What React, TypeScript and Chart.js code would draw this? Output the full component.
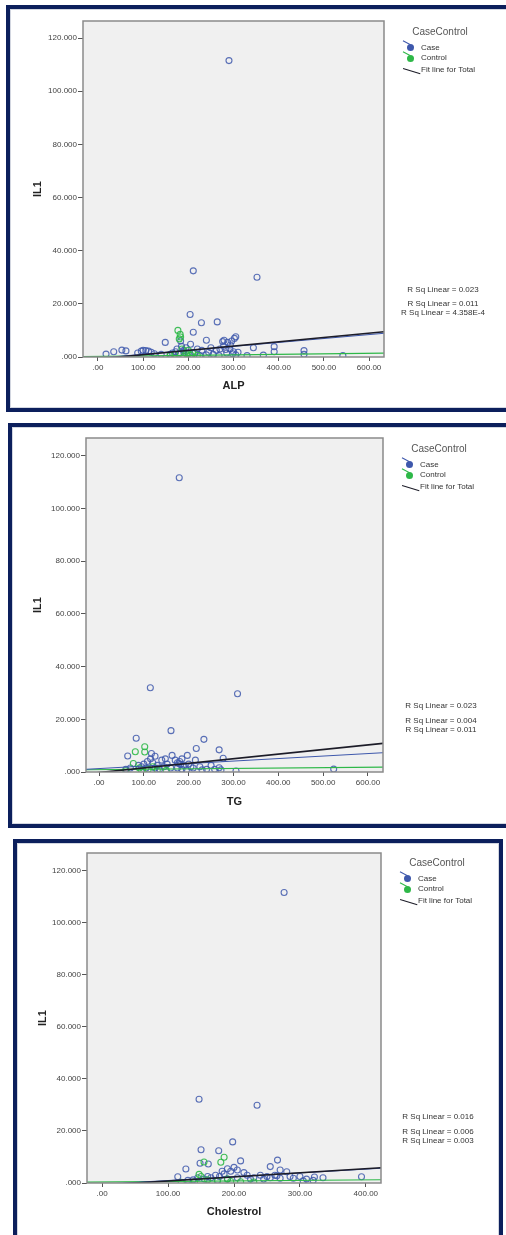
import React, { useEffect, useRef } from "react";
import { Chart, registerables } from "chart.js";

Chart.register(...registerables);

const FONT = "'Liberation Sans', Arial, sans-serif";

// ---------- shared axis ticks ----------
const yTicks = [0, 20, 40, 60, 80, 100, 120];
const xTicksWide = [0, 100, 200, 300, 400, 500, 600];
const xTicksChol = [0, 100, 200, 300, 400];

// ---------- Panel 1: ALP ----------
const alpCaseX = [290, 211, 352, 204, 229, 264, 211, 240, 149, 205, 183, 279, 287, 296, 302, 305, 293, 278, 270, 262, 250, 230, 220, 195, 190, 185, 175, 172, 165, 160, 344, 390, 390, 456, 456, 542, 366, 330, 18, 35, 53, 62, 96, 100, 106, 112, 118, 88, 125, 140, 300, 298, 305, 285, 310, 255, 240, 215, 200, 225, 268, 245, 292, 283, 276, 190, 180];
const alpCaseY = [111.5, 32.4, 30, 16, 12.9, 13.2, 9.3, 6.3, 5.5, 4.8, 6, 6.3, 5.5, 6, 7, 7.6, 4.5, 4, 3, 2.5, 3.5, 2.5, 3, 3.5, 2.5, 4, 3, 2, 1.5, 1, 3.5, 3.9, 2, 2.4, 1, 0.5, 0.7, 0.5, 1.1, 2, 2.6, 2.3, 2.2, 2.5, 2.4, 2.2, 1.8, 1.5, 1.2, 1, 2, 1.2, 0.8, 1.5, 1.8, 1, 0.8, 1.5, 1.2, 0.5, 0.5, 1.8, 3, 2.8, 5.8, 1.8, 1.4];
const alpCtrlX = [177, 182, 183, 180, 186, 200, 196, 205, 160, 210, 190, 170, 220];
const alpCtrlY = [10, 8.5, 7.5, 6.8, 3, 2.5, 1.2, 0.8, 0.5, 1.5, 0.3, 1, 0.6];
const alpFitTotal = [-0.75, 0.0162];
const alpFitCase = [-0.45, 0.0148];
const alpFitCtrl = [0.2, 0.002];
const alpRsq = ["R Sq Linear = 0.023", "R Sq Linear = 0.011", "R Sq Linear = 4.358E-4"];

// ---------- Panel 2: TG ----------
const tgCaseX = [179, 114.5, 309, 160.6, 83, 234, 217, 268, 64, 117, 163, 197, 277, 523.5, 305.6, 268, 272, 100, 108, 120, 130, 140, 148, 152, 170, 175, 180, 185, 190, 200, 205, 210, 215, 225, 240, 250, 258, 95, 105, 125, 135, 145, 160, 175, 185, 195, 115, 125, 60, 70, 88, 182, 178, 230];
const tgCaseY = [111.7, 32, 29.7, 15.7, 12.8, 12.4, 8.9, 8.4, 6.1, 7, 6.3, 6.3, 5.2, 1.1, 0.4, 1.6, 0.8, 3, 4, 3.5, 2.5, 4.5, 5, 3, 4.5, 3.5, 4, 5, 2.5, 3, 2, 1.5, 4.5, 2, 1, 2.5, 1, 2, 1.5, 1.5, 1, 2, 1.5, 1.5, 1, 0.8, 5, 6, 1, 1.5, 2.5, 2.8, 3.2, 0.8];
const tgCtrlX = [102, 81, 102, 76.6, 90, 110, 95, 130, 60, 150, 120];
const tgCtrlY = [9.6, 7.7, 7.6, 3.2, 1.5, 1, 0.5, 0.8, 0.5, 0.6, 2];
const tgFitTotal = [-0.2, 0.0175];
const tgFitCase = [1.3, 0.0095];
const tgFitCtrl = [0.9, 0.0015];
const tgRsq = ["R Sq Linear = 0.023", "R Sq Linear = 0.004", "R Sq Linear = 0.011"];

// ---------- Panel 3: Cholestrol ----------
const cholCaseX = [276, 147, 235, 198, 150, 176.8, 210, 266, 127, 255, 148.5, 161, 114.7, 393.4, 280, 270, 335, 322, 310, 300, 290, 262, 250, 240, 230, 220, 215, 205, 200, 195, 190, 185, 182, 178, 172, 165, 160, 155, 145, 138, 130, 205, 225, 245, 255, 270, 285, 305, 320, 190, 175, 265];
const cholCaseY = [111.7, 32.2, 29.9, 15.8, 12.8, 12.4, 8.5, 8.8, 5.4, 6.3, 7.6, 7.3, 2.4, 2.4, 4.3, 5, 2, 2.3, 1.5, 2.5, 1.8, 3, 2.5, 3, 2, 3, 4, 5, 6, 4.5, 5.5, 3.5, 4.5, 2.5, 3, 2, 2.5, 1.5, 2, 1.2, 1, 2, 1.5, 1.5, 2, 1.8, 2.5, 0.8, 1, 1.5, 1, 2.8];
const cholCtrlX = [185, 180, 154.5, 147, 150, 160, 175, 195, 210, 230, 140, 120, 190];
const cholCtrlY = [9.9, 8, 8.1, 3.3, 2.5, 1.2, 0.8, 0.6, 0.5, 0.4, 0.5, 0.3, 1.5];
const cholFitTotal = [-0.8, 0.0158];
const cholFitCase = [-0.5, 0.0146];
const cholFitCtrl = [0.4, 0.002];
const cholRsq = ["R Sq Linear = 0.016", "R Sq Linear = 0.006", "R Sq Linear = 0.003"];

const CASE_COLOR = "#3E58AC";
const CTRL_COLOR = "#2EB848";
const TOTAL_COLOR = "#1c1c28";

type Cfg = {
  box: { left: number; top: number; width: number; height: number };
  canvas: { left: number; top: number; width: number; height: number };
  area: { left: number; right: number; top: number; bottom: number };
  xMin: number;
  xMax: number;
  yMax: number;
  xTicks: number[];
  xTitle: string;
  xTitlePad: number;
  yTitlePad: number;
  caseX: number[];
  caseY: number[];
  ctrlX: number[];
  ctrlY: number[];
  fitTotal: number[];
  fitCase: number[];
  fitCtrl: number[];
  rsq: string[];
  rsqCx: number;
  rsqY: number[];
  legend: { x: number; y: number };
};

const panels: Cfg[] = [
  {
    box: { left: 6, top: 5, width: 520, height: 407 },
    canvas: { left: 10, top: 9, width: 490, height: 399 },
    area: { left: 73, right: 374, top: 12, bottom: 348 },
    xMin: -33, xMax: 633, yMax: 126.4,
    xTicks: xTicksWide, xTitle: "ALP", xTitlePad: 15.4, yTitlePad: 21.4,
    caseX: alpCaseX, caseY: alpCaseY, ctrlX: alpCtrlX, ctrlY: alpCtrlY,
    fitTotal: alpFitTotal, fitCase: alpFitCase, fitCtrl: alpFitCtrl,
    rsq: alpRsq, rsqCx: 443, rsqY: [290, 304, 313],
    legend: { x: 440, y: 32 },
  },
  {
    box: { left: 8, top: 423, width: 520, height: 405 },
    canvas: { left: 12, top: 427, width: 490, height: 397 },
    area: { left: 74, right: 371, top: 11, bottom: 345 },
    xMin: -29, xMax: 633.5, yMax: 126.8,
    xTicks: xTicksWide, xTitle: "TG", xTitlePad: 15.7, yTitlePad: 19.4,
    caseX: tgCaseX, caseY: tgCaseY, ctrlX: tgCtrlX, ctrlY: tgCtrlY,
    fitTotal: tgFitTotal, fitCase: tgFitCase, fitCtrl: tgFitCtrl,
    rsq: tgRsq, rsqCx: 441, rsqY: [706, 721, 730],
    legend: { x: 439, y: 449 },
  },
  {
    box: { left: 13, top: 839, width: 490, height: 420 },
    canvas: { left: 17, top: 843, width: 482, height: 392 },
    area: { left: 70, right: 364, top: 10, bottom: 340 },
    xMin: -23, xMax: 423, yMax: 126.9,
    xTicks: xTicksChol, xTitle: "Cholestrol", xTitlePad: 16.7, yTitlePad: 19.4,
    caseX: cholCaseX, caseY: cholCaseY, ctrlX: cholCtrlX, ctrlY: cholCtrlY,
    fitTotal: cholFitTotal, fitCase: cholFitCase, fitCtrl: cholFitCtrl,
    rsq: cholRsq, rsqCx: 438, rsqY: [1117, 1132, 1141],
    legend: { x: 437, y: 863 },
  },
];

const spss = (v: number, d: number) => {
  const s = Number(v).toFixed(d);
  return s.startsWith("0.") ? s.slice(1) : s;
};

const plotFrame = {
  id: "plotFrame",
  beforeDatasetsDraw(chart: any) {
    const { ctx, chartArea: a } = chart;
    ctx.save();
    ctx.fillStyle = "#f0f0f0";
    ctx.fillRect(a.left, a.top, a.right - a.left, a.bottom - a.top);
    ctx.restore();
  },
  afterDatasetsDraw(chart: any) {
    const { ctx, chartArea: a } = chart;
    ctx.save();
    ctx.strokeStyle = "#8a8a8a";
    ctx.lineWidth = 1.5;
    ctx.strokeRect(a.left, a.top, a.right - a.left, a.bottom - a.top);
    ctx.restore();
  },
};

function ScatterPanel({ cfg }: { cfg: Cfg }) {
  const ref = useRef<HTMLCanvasElement | null>(null);
  useEffect(() => {
    if (!ref.current) return;
    const line = (coef: number[], color: string, width: number, order: number) => ({
      type: "line" as const,
      data: [cfg.xMin, cfg.xMax].map((x) => ({ x, y: coef[0] + coef[1] * x })),
      borderColor: color,
      borderWidth: width,
      pointRadius: 0,
      showLine: true,
      fill: false,
      order,
    });
    const pts = (xs: number[], ys: number[], color: string, order: number) => ({
      type: "scatter" as const,
      data: xs.map((x, i) => ({ x, y: ys[i] })),
      borderColor: color,
      backgroundColor: "rgba(0,0,0,0)",
      pointRadius: 3,
      pointBorderWidth: 1.1,
      order,
    });
    const chart = new Chart(ref.current, {
      type: "scatter",
      data: {
        datasets: [
          line(cfg.fitTotal, TOTAL_COLOR, 1.6, 0),
          line(cfg.fitCase, CASE_COLOR, 1, 1),
          line(cfg.fitCtrl, CTRL_COLOR, 1.2, 2),
          pts(cfg.ctrlX, cfg.ctrlY, "rgba(46,184,72,0.9)", 3),
          pts(cfg.caseX, cfg.caseY, "rgba(62,88,172,0.85)", 4),
        ] as any,
      },
      options: {
        animation: false,
        responsive: false,
        maintainAspectRatio: false,
        devicePixelRatio: 1,
        events: [],
        layout: {
          padding: {
            left: 0,
            top: cfg.area.top,
            right: cfg.canvas.width - cfg.area.right,
            bottom: 0,
          },
        },
        plugins: { legend: { display: false }, tooltip: { enabled: false } },
        scales: {
          x: {
            type: "linear",
            min: cfg.xMin,
            max: cfg.xMax,
            afterBuildTicks: (s: any) => {
              s.ticks = cfg.xTicks.map((v) => ({ value: v }));
            },
            afterFit: (s: any) => {
              s.height = cfg.canvas.height - cfg.area.bottom;
            },
            grid: { drawOnChartArea: false, drawTicks: true, tickLength: 4, tickColor: "#555", lineWidth: 1 },
            border: { display: false },
            ticks: {
              padding: 2,
              color: "#444",
              maxRotation: 0,
              autoSkip: false,
              font: { size: 8, family: FONT },
              callback: (v: any) => spss(v, 2),
            },
            title: {
              display: true,
              text: cfg.xTitle,
              color: "#222",
              font: { size: 11, weight: "bold", family: FONT },
              padding: { top: 0, bottom: cfg.xTitlePad },
            },
          },
          y: {
            type: "linear",
            min: 0,
            max: cfg.yMax,
            afterBuildTicks: (s: any) => {
              s.ticks = yTicks.map((v) => ({ value: v }));
            },
            afterFit: (s: any) => {
              s.width = cfg.area.left;
            },
            grid: { drawOnChartArea: false, drawTicks: true, tickLength: 5, tickColor: "#555", lineWidth: 1 },
            border: { display: false },
            ticks: {
              padding: 1,
              color: "#444",
              autoSkip: false,
              font: { size: 8, family: FONT },
              callback: (v: any) => spss(v, 3),
            },
            title: {
              display: true,
              text: "IL1",
              color: "#222",
              font: { size: 11, weight: "bold", family: FONT },
              padding: { top: cfg.yTitlePad, bottom: 0 },
            },
          },
        },
      } as any,
      plugins: [plotFrame],
    });
    return () => chart.destroy();
  }, [cfg]);

  const { legend: L } = cfg;
  const txt = (
    text: string,
    left: number,
    cy: number,
    size: number,
    color: string,
    center = false,
    key?: string
  ) => (
    <div
      key={key}
      style={{
        position: "absolute",
        left,
        top: cy - 5,
        height: 10,
        lineHeight: "10px",
        fontSize: size,
        fontFamily: FONT,
        color,
        whiteSpace: "nowrap",
        transform: center ? "translateX(-50%)" : undefined,
      }}
    >
      {text}
    </div>
  );
  const marker = (cx: number, cy: number, color: string) => (
    <>
      <div
        style={{
          position: "absolute",
          left: cx - 8,
          top: cy - 3,
          width: 8,
          height: 1.2,
          background: color,
          transform: "rotate(28deg)",
          transformOrigin: "100% 50%",
        }}
      />
      <div
        style={{
          position: "absolute",
          left: cx - 3.5,
          top: cy - 3.5,
          width: 7,
          height: 7,
          borderRadius: "50%",
          background: color,
        }}
      />
    </>
  );

  return (
    <>
      <div
        style={{
          position: "absolute",
          left: cfg.box.left,
          top: cfg.box.top,
          width: cfg.box.width,
          height: cfg.box.height,
          border: "4px solid #0c1f5c",
          boxSizing: "border-box",
          boxShadow: "inset 0 0 0 1px #d2d6e0",
          background: "#fff",
        }}
      />
      <canvas
        ref={ref}
        width={cfg.canvas.width}
        height={cfg.canvas.height}
        style={{
          position: "absolute",
          left: cfg.canvas.left,
          top: cfg.canvas.top,
          width: cfg.canvas.width,
          height: cfg.canvas.height,
        }}
      />
      {txt("CaseControl", L.x, L.y, 10, "#555", true)}
      {marker(L.x - 30, L.y + 15, CASE_COLOR)}
      {txt("Case", L.x - 19, L.y + 16, 8, "#333")}
      {marker(L.x - 30, L.y + 26, CTRL_COLOR)}
      {txt("Control", L.x - 19, L.y + 26, 8, "#333")}
      <div
        style={{
          position: "absolute",
          left: L.x - 37,
          top: L.y + 36,
          width: 18,
          height: 1.4,
          background: TOTAL_COLOR,
          transform: "rotate(17deg)",
          transformOrigin: "0 50%",
        }}
      />
      {txt("Fit line for Total", L.x - 19, L.y + 38, 8, "#333")}
      {cfg.rsq.map((r, i) => txt(r, cfg.rsqCx, cfg.rsqY[i], 8, "#333", true, "r" + i))}
    </>
  );
}

export default function App() {
  return (
    <div
      style={{
        position: "absolute",
        left: 0,
        top: 0,
        width: 506,
        height: 1235,
        overflow: "hidden",
        background: "#fff",
      }}
    >
      {panels.map((p, i) => (
        <ScatterPanel key={i} cfg={p} />
      ))}
    </div>
  );
}
